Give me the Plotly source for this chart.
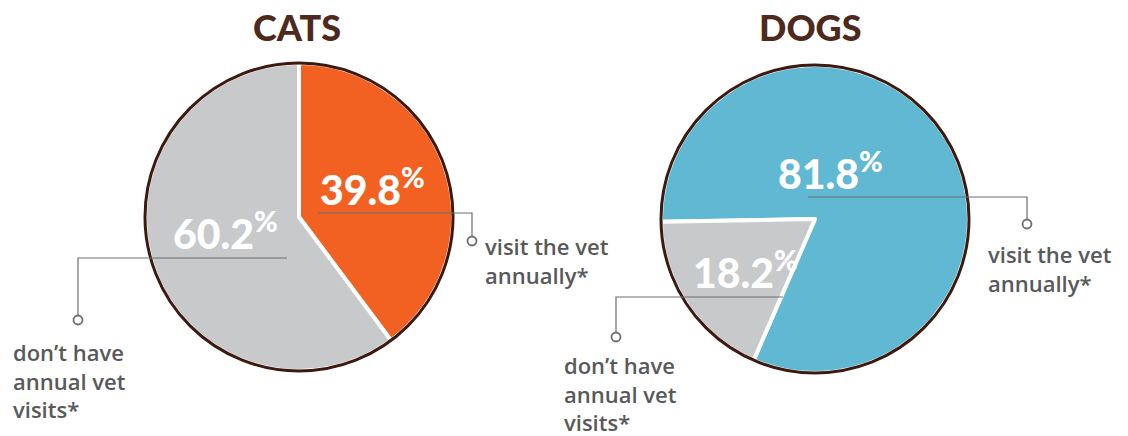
import plotly.graph_objects as go

W, H = 1128, 436

# ---- data ----
titles = ["CATS", "DOGS"]
cats_labels = ["visit the vet annually*", "don’t have annual vet visits*"]
cats_values = [39.8, 60.2]
dogs_labels = ["visit the vet annually*", "don’t have annual vet visits*"]
dogs_values = [81.8, 18.2]
cats_colors = ["#f26122", "#c8c9cb"]
dogs_colors = ["#60b8d2", "#c8c9cb"]

BROWN = "#3d1a10"
TITLE_C = "#4e2a1c"
TXT = "#58595b"
LINE = "#6d6e70"


def px(x):
    return x / W


def py(y):
    return 1 - y / H


def domain(cx, cy, r):
    return dict(x=[px(cx - r), px(cx + r)], y=[py(cy + r), py(cy - r)])


pies = [
    dict(cx=299, cy=217, r=154, values=cats_values, labels=cats_labels,
         colors=cats_colors, rotation=0),
    dict(cx=815, cy=219, r=154, values=dogs_values, labels=dogs_labels,
         colors=dogs_colors, rotation=-91),
]

fig = go.Figure()
shapes = []
annotations = []

for p in pies:
    fig.add_trace(go.Pie(
        values=p["values"], labels=p["labels"], sort=False,
        direction="clockwise", rotation=p["rotation"],
        marker=dict(colors=p["colors"], line=dict(color="white", width=4)),
        textinfo="none", hoverinfo="skip", showlegend=False,
        domain=domain(p["cx"], p["cy"], p["r"]),
    ))
    r = p["r"]
    shapes.append(dict(type="circle", xref="paper", yref="paper",
                       x0=px(p["cx"] - r), x1=px(p["cx"] + r),
                       y0=py(p["cy"] + r), y1=py(p["cy"] - r),
                       line=dict(color=BROWN, width=3), fillcolor="rgba(0,0,0,0)"))

# titles
for t, x in zip(titles, [297, 810]):
    annotations.append(dict(text=t, x=px(x), y=py(27), xref="paper", yref="paper",
                            showarrow=False, xanchor="center", yanchor="middle",
                            font=dict(family="Lato", size=36, color=TITLE_C, weight=900)))

# percentage labels (x,y pixel positions of value text)
pct_pos = [
    (cats_values[0], 318, 187),
    (cats_values[1], 171, 231),
    (dogs_values[0], 776, 171),
    (dogs_values[1], 691, 270),
]
for v, x, y in pct_pos:
    annotations.append(dict(text=f"{v:.1f}<sup>%</sup>", x=px(x), y=py(y),
                            xref="paper", yref="paper", showarrow=False,
                            xanchor="left", yanchor="middle",
                            font=dict(family="Lato", size=41, color="white", weight=900)))

# leader lines: list of polyline points, end circle
leaders = [
    ([(318, 213), (472, 213), (472, 237)], (472, 241)),
    ([(287, 258), (78, 258), (78, 316)], (78, 320)),
    ([(808, 197), (1027, 197), (1027, 220)], (1027, 224)),
    ([(783, 297), (616, 297), (616, 333)], (616, 337)),
]
for pts, (cx, cy) in leaders:
    path = "M " + " L ".join(f"{px(x)},{py(y)}" for x, y in pts)
    shapes.append(dict(type="path", xref="paper", yref="paper", path=path,
                       line=dict(color=LINE, width=1.2)))
    rr = 4.5
    shapes.append(dict(type="circle", xref="paper", yref="paper",
                       x0=px(cx - rr), x1=px(cx + rr), y0=py(cy + rr), y1=py(cy - rr),
                       line=dict(color=LINE, width=1.8), fillcolor="white"))

# category labels
lab_pos = [
    (483, 260, ["visit the vet", "annually*"]),
    (11, 380, ["don’t have", "annual vet", "visits*"]),
    (986, 268, ["visit the vet", "annually*"]),
    (562, 393, ["don’t have", "annual vet", "visits*"]),
]
for x, y, lines in lab_pos:
    annotations.append(dict(text="<br>".join(lines), x=px(x), y=py(y),
                            xref="paper", yref="paper", showarrow=False,
                            xanchor="left", yanchor="middle", align="left",
                            font=dict(family="Open Sans", size=22, color=TXT, weight=600)))

fig.update_layout(
    width=W, height=H, margin=dict(l=0, r=0, t=0, b=0),
    paper_bgcolor="white", plot_bgcolor="white",
    shapes=shapes, annotations=annotations,
)

fig.write_html("out.html", config={"displayModeBar": False},
               post_script="document.body.style.margin='0';"
                           "document.documentElement.style.overflow='hidden';")
